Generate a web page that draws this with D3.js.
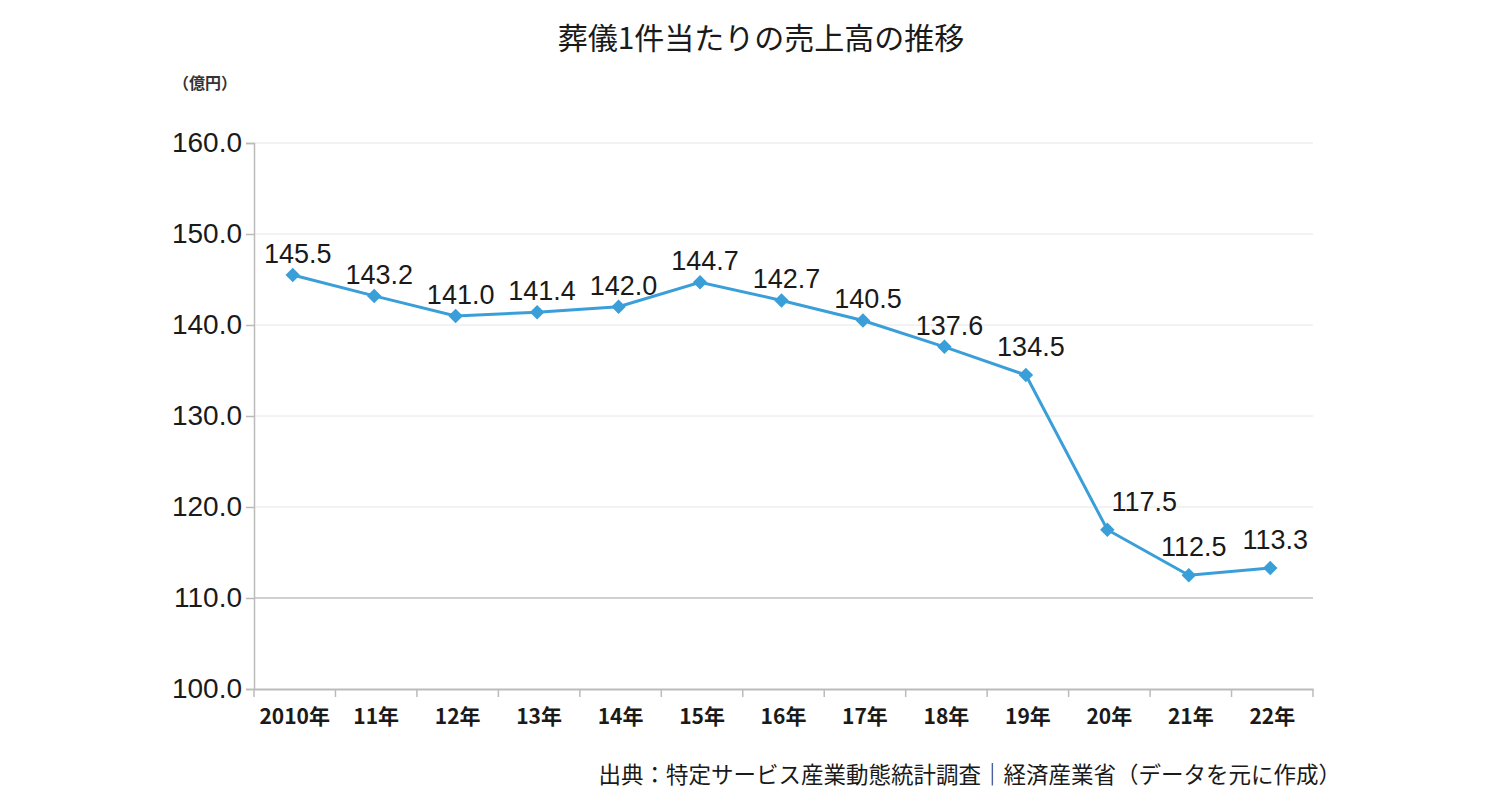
<!DOCTYPE html>
<html><head><meta charset="utf-8">
<script src="https://cdn.jsdelivr.net/npm/d3@7"></script>
<style>body{margin:0;background:#fff}svg{display:block}</style>
</head><body>
<svg id="c" width="1500" height="802"></svg>
<script>
const categories = ["2010年","11年","12年","13年","14年","15年","16年","17年","18年","19年","20年","21年","22年"];
const values = [145.5,143.2,141.0,141.4,142.0,144.7,142.7,140.5,137.6,134.5,117.5,112.5,113.3];
const yTicks = [100,110,120,130,140,150,160];
const title = "葬儀1件当たりの売上高の推移";
const unitLabel = "（億円）";
const sourceText = "出典：特定サービス産業動態統計調査｜経済産業省（データを元に作成）";

(function(){
const svg = d3.select("#c");
const mLeft = 254, mRight = 1313, mTop = 143, mBottom = 689;
const x = d3.scaleBand().domain(categories).range([mLeft, mRight]).padding(0);
const y = d3.scaleLinear().domain([100,160]).range([mBottom, mTop]);
const numFont = "'Liberation Sans', Arial, sans-serif";
const jpFont = "'Noto Sans CJK JP', sans-serif";

// gridlines
svg.append("g").selectAll("line").data(yTicks.filter(d=>d>100)).join("line")
  .attr("x1", mLeft).attr("x2", mRight).attr("y1", d=>y(d)).attr("y2", d=>y(d))
  .attr("stroke", d => d===110 ? "#d0d0d0" : "#e6e6e6").attr("stroke-width", d => d===110 ? 2 : 1);

// y axis
const yAxis = svg.append("g").attr("transform", `translate(${mLeft},0)`)
  .call(d3.axisLeft(y).tickValues(yTicks).tickFormat(d3.format(".1f")).tickSize(8).tickPadding(4));
yAxis.select(".domain").attr("stroke", "#bbb").attr("stroke-width", 1.5);
yAxis.selectAll(".tick line").attr("stroke", "#bbb").attr("stroke-width", 1.5);
yAxis.selectAll("text").attr("font-family", numFont).attr("font-size", 28).attr("fill", "#1a1a1a");

// x axis
const xAxis = svg.append("g").attr("transform", `translate(0,${mBottom})`)
  .call(d3.axisBottom(x).tickSize(0).tickPadding(20));
xAxis.select(".domain").attr("stroke", "#bbb").attr("stroke-width", 2);
xAxis.selectAll("text").attr("font-family", jpFont).attr("font-weight", "bold").attr("font-size", 21).attr("fill", "#1a1a1a");
svg.append("g").selectAll("line").data(categories.map(c=>x(c)).concat([mRight])).join("line")
  .attr("x1", d=>d).attr("x2", d=>d).attr("y1", mBottom).attr("y2", mBottom+8)
  .attr("stroke", "#bbb").attr("stroke-width", 1.5);

// line
const cx = (d,i) => x(categories[i]) + x.bandwidth()/2 - 2;
const line = d3.line().x((d,i)=>cx(d,i)).y(d=>y(d));
svg.append("path").datum(values).attr("d", line)
  .attr("fill", "none").attr("stroke", "#3a9fd8").attr("stroke-width", 3);

svg.append("g").selectAll("path").data(values).join("path")
  .attr("d", d3.symbol(d3.symbolSquare, 105))
  .attr("transform", (d,i)=>`translate(${cx(d,i)},${y(d)}) rotate(45)`)
  .attr("fill", "#3a9fd8");

// data labels (label at steep drop is shifted right to clear the line)
svg.append("g").selectAll("text").data(values).join("text")
  .attr("x", (d,i)=>cx(d,i) + (i===10 ? 37 : 5))
  .attr("y", (d,i)=>y(d) - (i>=9 ? 19 : 12))
  .attr("text-anchor", "middle").attr("font-family", numFont).attr("font-size", 27)
  .attr("fill", "#1a1a1a").text(d=>d3.format(".1f")(d));

// title
svg.append("text").attr("x", 761).attr("y", 49).attr("text-anchor", "middle")
  .attr("font-family", jpFont).attr("font-size", 30).attr("fill", "#1a1a1a").text(title);
svg.append("text").attr("x", 173).attr("y", 89)
  .attr("font-family", jpFont).attr("font-weight", "bold").attr("font-size", 16).attr("fill", "#333").text(unitLabel);
svg.append("text").attr("x", 1341).attr("y", 783).attr("text-anchor", "end")
  .attr("font-family", jpFont).attr("font-size", 22.5).attr("fill", "#1a1a1a").text(sourceText);
})();
</script>
</body></html>
